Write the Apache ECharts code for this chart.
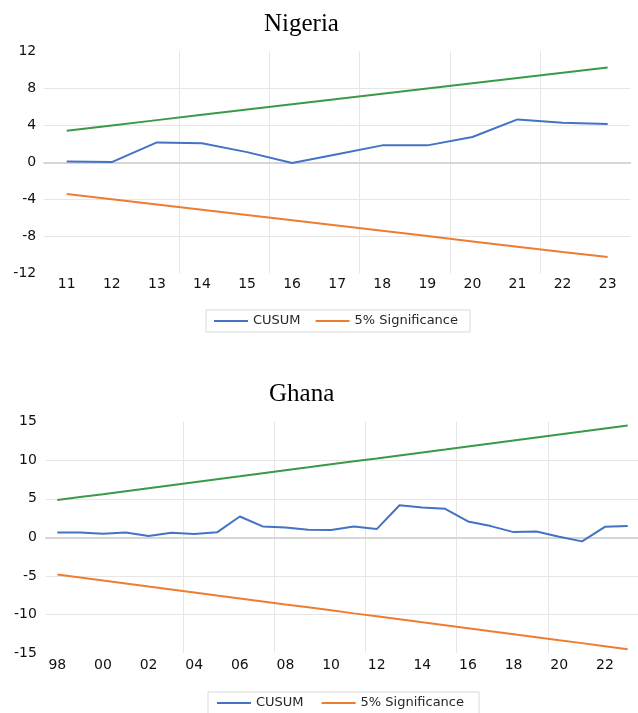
<!DOCTYPE html>
<html>
<head>
<meta charset="utf-8">
<title>CUSUM stability tests: Nigeria and Ghana</title>
<script src="https://cdn.jsdelivr.net/npm/echarts@6/dist/echarts.min.js"></script>
<style>
  html, body { margin: 0; padding: 0; background: #ffffff; }
  #chart { width: 638px; height: 713px; }
</style>
</head>
<body>
<div id="chart"></div>
<script>
// ---- Nigeria ----
const nigeriaYears = ['11', '12', '13', '14', '15', '16', '17', '18', '19', '20', '21', '22', '23'];
const nigeriaCusum = [0.08, 0.02, 2.15, 2.05, 1.1, -0.07, 0.88, 1.83, 1.83, 2.74, 4.64, 4.28, 4.14];
const nigeriaUpper = [3.42, 3.99, 4.56, 5.13, 5.70, 6.27, 6.84, 7.41, 7.98, 8.55, 9.12, 9.69, 10.25];
const nigeriaLower = [-3.42, -3.99, -4.56, -5.13, -5.70, -6.27, -6.84, -7.41, -7.98, -8.55, -9.12, -9.69, -10.25];
const nigeriaTicks = { min: -12, max: 12, step: 4 };

// ---- Ghana ----
const ghanaYears = ['98', '99', '00', '01', '02', '03', '04', '05', '06', '07', '08', '09', '10',
                    '11', '12', '13', '14', '15', '16', '17', '18', '19', '20', '21', '22', '23'];
const ghanaCusum = [0.62, 0.62, 0.48, 0.62, 0.17, 0.6, 0.45, 0.65, 2.7, 1.42, 1.29, 0.99, 0.94,
                    1.42, 1.07, 4.17, 3.87, 3.7, 2.06, 1.46, 0.68, 0.77, 0.08, -0.52, 1.37, 1.46];
const ghanaUpper = [4.83, 5.22, 5.60, 5.99, 6.38, 6.76, 7.15, 7.54, 7.92, 8.31, 8.70, 9.08, 9.47,
                    9.86, 10.24, 10.63, 11.02, 11.40, 11.79, 12.18, 12.56, 12.95, 13.34, 13.72, 14.11, 14.50];
const ghanaLower = [-4.83, -5.22, -5.60, -5.99, -6.38, -6.76, -7.15, -7.54, -7.92, -8.31, -8.70, -9.08, -9.47,
                    -9.86, -10.24, -10.63, -11.02, -11.40, -11.79, -12.18, -12.56, -12.95, -13.34, -13.72, -14.11, -14.50];
const ghanaTicks = { min: -15, max: 15, step: 5 };

const legendNames = ['CUSUM', '5% Significance'];

const BLUE = '#4472c4';
const ORANGE = '#ed7d31';
const GREEN = '#3a9a46';
const GRID_COLOR = '#e6e6e6';
const ZERO_COLOR = '#d6d6d6';
const LABEL_FONT = 'DejaVu Sans';

function labelAxis(gridIndex, cats, labelInterval, splitInterval, margin) {
  return {
    type: 'category', gridIndex: gridIndex, data: cats, boundaryGap: true,
    axisLine: { show: false, onZero: false },
    axisTick: { show: false },
    axisLabel: { interval: labelInterval, margin: margin, color: '#111111', fontFamily: LABEL_FONT, fontSize: 14 },
    splitLine: { show: true, interval: splitInterval, showMinLine: false, showMaxLine: false,
                 lineStyle: { color: GRID_COLOR, width: 1 } }
  };
}

// second category axis per panel: only its line, sitting on y = 0
function zeroAxis(gridIndex, cats) {
  return {
    type: 'category', gridIndex: gridIndex, data: cats, boundaryGap: true, position: 'bottom',
    axisLine: { show: true, onZero: true, lineStyle: { color: ZERO_COLOR, width: 2 } },
    axisTick: { show: false }, axisLabel: { show: false }, splitLine: { show: false }
  };
}

function valueAxis(gridIndex, ticks, margin) {
  return {
    type: 'value', gridIndex: gridIndex, min: ticks.min, max: ticks.max, interval: ticks.step,
    axisLine: { show: false }, axisTick: { show: false },
    axisLabel: { margin: margin, color: '#111111', fontFamily: LABEL_FONT, fontSize: 14 },
    splitLine: { show: true, showMinLine: false, showMaxLine: false, lineStyle: { color: GRID_COLOR, width: 1 } }
  };
}

function line(name, data, color, axisIdx) {
  return {
    name: name, type: 'line', data: data, xAxisIndex: axisIdx, yAxisIndex: axisIdx === 0 ? 0 : 1,
    symbol: 'none', smooth: false, lineStyle: { color: color, width: 2 }, itemStyle: { color: color },
    emphasis: { disabled: true }, z: 3
  };
}

function legendBox(left, top, gap, padding) {
  return {
    data: legendNames, left: left, top: top, orient: 'horizontal',
    icon: 'rect', itemWidth: 34, itemHeight: 2, itemGap: gap,
    padding: padding,
    borderColor: '#d9d9d9', borderWidth: 1, backgroundColor: '#ffffff',
    textStyle: { fontFamily: LABEL_FONT, fontSize: 13, color: '#262626', lineHeight: 14 },
    selectedMode: false
  };
}

const chart = echarts.init(document.getElementById('chart'), null, { renderer: 'canvas' });

chart.setOption({
  backgroundColor: '#ffffff',
  animation: false,
  title: [
    { text: 'Nigeria', left: 259, top: 7,
      textStyle: { fontFamily: 'Liberation Serif', fontSize: 25, fontWeight: 'normal', color: '#000000' } },
    { text: 'Ghana', left: 264, top: 377,
      textStyle: { fontFamily: 'Liberation Serif', fontSize: 25, fontWeight: 'normal', color: '#000000' } }
  ],
  legend: [
    legendBox(206, 310, 15, [4, 12, 4, 8]),
    legendBox(208, 692, 18, [4, 15, 4, 9])
  ],
  grid: [
    { left: 44.2, top: 51.3, width: 586, height: 222, outerBoundsMode: 'none', containLabel: false },
    { left: 45.9, top: 421.7, width: 593.2, height: 231.3, outerBoundsMode: 'none', containLabel: false }
  ],
  xAxis: [
    labelAxis(0, nigeriaYears, 0, function (i) { return i % 2 === 1; }, 4),
    zeroAxis(0, nigeriaYears),
    labelAxis(1, ghanaYears, 1, function (i) { return i % 4 === 2; }, 5),
    zeroAxis(1, ghanaYears)
  ],
  yAxis: [
    valueAxis(0, nigeriaTicks, 8),
    valueAxis(1, ghanaTicks, 9)
  ],
  series: [
    line('Upper 5% bound', nigeriaUpper, GREEN, 0),
    line('5% Significance', nigeriaLower, ORANGE, 0),
    line('CUSUM', nigeriaCusum, BLUE, 0),
    line('Upper 5% bound', ghanaUpper, GREEN, 2),
    line('5% Significance', ghanaLower, ORANGE, 2),
    line('CUSUM', ghanaCusum, BLUE, 2)
  ]
});
</script>
</body>
</html>
